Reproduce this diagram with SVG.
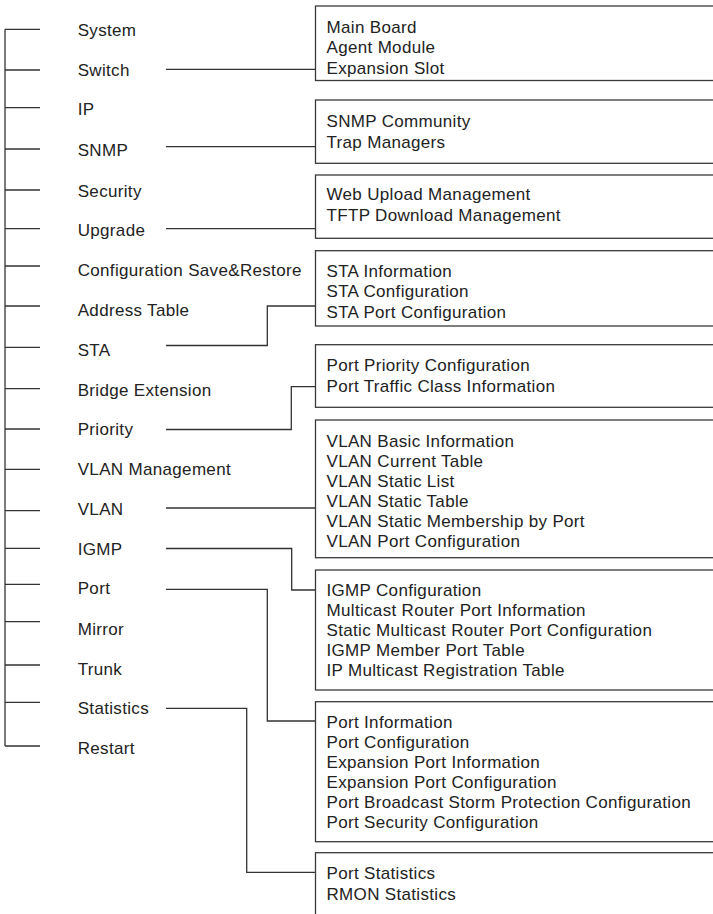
<svg xmlns="http://www.w3.org/2000/svg" width="713" height="914" viewBox="0 0 713 914">
<style>
text{font-family:"Liberation Sans",Arial,sans-serif;font-size:17px;fill:#222;letter-spacing:0.33px}
.box{fill:#fff;stroke:#3a3a3a;stroke-width:1.3}
.ln{fill:none;stroke:#333;stroke-width:1.3}
</style>
<rect width="713" height="914" fill="#fff"/>
<g id="connectors" class="ln">
<path class="ln" d="M5 29.3V746"/>
<path class="ln" d="M5 29.3H40M5 70H40M5 107.7H40M5 149H40M5 190H40M5 228.7H40M5 266H40M5 306H40M5 347.3H40M5 388.7H40M5 429H40M5 469.3H40M5 510.7H40M5 548.3H40M5 584.3H40M5 621.7H40M5 665H40M5 702.3H40M5 746H40"/>
<path class="ln" d="M166 69.3H315.5"/>
<path class="ln" d="M166 146.7H315.5"/>
<path class="ln" d="M166 228.7H315.5"/>
<path class="ln" d="M166 345.5H267.3V306H315.5"/>
<path class="ln" d="M166 429.5H291.3V386.7H315.5"/>
<path class="ln" d="M166 508H315.5"/>
<path class="ln" d="M166 548.5H291.7V590H315.5"/>
<path class="ln" d="M166 589.3H267.3V721H315.5"/>
<path class="ln" d="M166 708.3H246.7V872.3H315.5"/>
</g>
<g id="n-system"><text x="77.7" y="36">System</text></g>
<g id="n-switch"><text x="77.7" y="76">Switch</text></g>
<g id="n-ip"><text x="77.7" y="115">IP</text></g>
<g id="n-snmp"><text x="77.7" y="156">SNMP</text></g>
<g id="n-security"><text x="77.7" y="196.5">Security</text></g>
<g id="n-upgrade"><text x="77.7" y="235.5">Upgrade</text></g>
<g id="n-config"><text x="77.7" y="276">Configuration Save&amp;Restore</text></g>
<g id="n-address"><text x="77.7" y="316">Address Table</text></g>
<g id="n-sta"><text x="77.7" y="356">STA</text></g>
<g id="n-bridge"><text x="77.7" y="395.5">Bridge Extension</text></g>
<g id="n-priority"><text x="77.7" y="435">Priority</text></g>
<g id="n-vlanmgmt"><text x="77.7" y="475">VLAN Management</text></g>
<g id="n-vlan"><text x="77.7" y="515">VLAN</text></g>
<g id="n-igmp"><text x="77.7" y="554.5">IGMP</text></g>
<g id="n-port"><text x="77.7" y="594">Port</text></g>
<g id="n-mirror"><text x="77.7" y="634.5">Mirror</text></g>
<g id="n-trunk"><text x="77.7" y="674.5">Trunk</text></g>
<g id="n-statistics"><text x="77.7" y="713.5">Statistics</text></g>
<g id="n-restart"><text x="77.7" y="754">Restart</text></g>

<g id="b-switch"><rect class="box" x="315.5" y="6" width="410" height="74.5"/>
<text x="326.5" y="32.7">Main Board</text><text x="326.5" y="53.2">Agent Module</text><text x="326.5" y="73.7">Expansion Slot</text></g>
<g id="b-snmp"><rect class="box" x="315.5" y="100" width="410" height="63.3"/>
<text x="326.5" y="126.7">SNMP Community</text><text x="326.5" y="147.7">Trap Managers</text></g>
<g id="b-upgrade"><rect class="box" x="315.5" y="175" width="410" height="63.3"/>
<text x="326.5" y="199.5">Web Upload Management</text><text x="326.5" y="220.5">TFTP Download Management</text></g>
<g id="b-sta"><rect class="box" x="315.5" y="250.7" width="410" height="75.3"/>
<text x="326.5" y="277">STA Information</text><text x="326.5" y="297.3">STA Configuration</text><text x="326.5" y="317.5">STA Port Configuration</text></g>
<g id="b-priority"><rect class="box" x="315.5" y="344.7" width="410" height="62.6"/>
<text x="326.5" y="371">Port Priority Configuration</text><text x="326.5" y="391.7">Port Traffic Class Information</text></g>
<g id="b-vlan"><rect class="box" x="315.5" y="420" width="410" height="137.7"/>
<text x="326.5" y="446.7">VLAN Basic Information</text><text x="326.5" y="466.7">VLAN Current Table</text><text x="326.5" y="486.7">VLAN Static List</text><text x="326.5" y="506.7">VLAN Static Table</text><text x="326.5" y="526.7">VLAN Static Membership by Port</text><text x="326.5" y="546.7">VLAN Port Configuration</text></g>
<g id="b-igmp"><rect class="box" x="315.5" y="570" width="410" height="120"/>
<text x="326.5" y="596">IGMP Configuration</text><text x="326.5" y="616">Multicast Router Port Information</text><text x="326.5" y="636">Static Multicast Router Port Configuration</text><text x="326.5" y="656">IGMP Member Port Table</text><text x="326.5" y="676">IP Multicast Registration Table</text></g>
<g id="b-port"><rect class="box" x="315.5" y="701.7" width="410" height="140"/>
<text x="326.5" y="728">Port Information</text><text x="326.5" y="748">Port Configuration</text><text x="326.5" y="768">Expansion Port Information</text><text x="326.5" y="788">Expansion Port Configuration</text><text x="326.5" y="808">Port Broadcast Storm Protection Configuration</text><text x="326.5" y="828">Port Security Configuration</text></g>
<g id="b-statistics"><rect class="box" x="315.5" y="852.7" width="410" height="80"/>
<text x="326.5" y="879">Port Statistics</text><text x="326.5" y="899.5">RMON Statistics</text></g>
</svg>
